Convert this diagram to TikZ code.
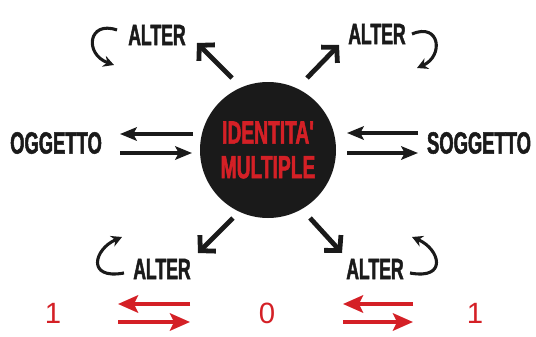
\documentclass[tikz,border=0pt]{standalone}
\usepackage{fontspec}
\setmainfont{Liberation Sans}
\newfontfamily\condfont{Liberation Sans}[FakeStretch=0.6,BoldFeatures={FakeBold=1.6}]
\usetikzlibrary{arrows.meta}
\definecolor{idred}{RGB}{212,32,38}
\definecolor{idblack}{RGB}{26,26,26}

\begin{document}
\begin{tikzpicture}[x=0.75pt,y=0.75pt,yscale=-1,xscale=1,
  lbl/.style={inner sep=0pt,font=\condfont\bfseries\fontsize{22}{24}\selectfont,text=idblack},
  big/.style={inner sep=0pt,font=\condfont\bfseries\fontsize{23}{26}\selectfont,text=idblack},
  num/.style={inner sep=0pt,font=\fontsize{22}{24}\selectfont,text=idred},
  dirarr/.style={line width=3.6pt,idblack,-{Straight Barb[length=8pt,width=17pt]}},
  pairarr/.style={line width=3pt,idblack,-{Stealth[length=12.5pt,width=10pt,inset=2.5pt]}},
  redarr/.style={line width=2.8pt,idred,-{Stealth[length=15pt,width=13pt,inset=3pt]}},
  curl/.style={line width=2.3pt,idblack,-{Stealth[length=8pt,width=8.5pt]}}]
\useasboundingbox (0,0) rectangle (536,336);

% Centre
\node [circle,fill=idblack,minimum size=102pt,inner sep=0pt,align=center,
  font=\condfont\bfseries\fontsize{24}{26}\selectfont,text=idred] (id) at (268,150) {IDENTITA'\\MULTIPLE};

% Labels
\node [lbl] (altertl) at (157,35) {ALTER};
\node [lbl] (altertr) at (377,34) {ALTER};
\node [lbl] (alterbl) at (162,269) {ALTER};
\node [lbl] (alterbr) at (375,269) {ALTER};
\node [big] (ogg) at (56,143) {OGGETTO};
\node [big] (sogg) at (479,143) {SOGGETTO};
\node [num] (numl) at (53,313) {1};
\node [num] (numc) at (267,313) {0};
\node [num] (numr) at (475,313) {1};

% Arrow ends
\coordinate (tla) at (232,78);  \coordinate (tlb) at (197,43);
\coordinate (tra) at (307,78);  \coordinate (trb) at (339,45);
\coordinate (bla) at (233,218); \coordinate (blb) at (198,253);
\coordinate (bra) at (310,218); \coordinate (brb) at (342,253);
\coordinate (ola) at (193,134); \coordinate (olb) at (120,134);
\coordinate (orb) at (192,153);
\coordinate (sla) at (418,133); \coordinate (slb) at (347,133);
\coordinate (srb) at (418,153);
\coordinate (rla) at (190,304); \coordinate (rlb) at (118,304);
\coordinate (rlc) at (190,322);
\coordinate (rra) at (413,304); \coordinate (rrb) at (343,304);
\coordinate (rrc) at (413,322);

% Diagonal arrows
\draw [dirarr] (tla) -- (tlb);
\draw [dirarr] (tra) -- (trb);
\draw [dirarr] (bla) -- (blb);
\draw [dirarr] (bra) -- (brb);

% Pairs
\draw [pairarr] (ola) -- (olb);
\draw [pairarr] (olb |- orb) -- (orb);
\draw [pairarr] (sla) -- (slb);
\draw [pairarr] (slb |- srb) -- (srb);
\draw [redarr] (rla) -- (rlb);
\draw [redarr] (rlb |- rlc) -- (rlc);
\draw [redarr] (rra) -- (rrb);
\draw [redarr] (rrb |- rrc) -- (rrc);

% Curls
\draw [curl] (117,30) .. controls (88,20) and (84,54) .. (114,65);
\draw [curl] (412,34) .. controls (440,22) and (444,56) .. (417,68);
\draw [curl] (124,273) .. controls (86,280) and (94,249) .. (122,237);
\draw [curl] (410,273) .. controls (448,280) and (440,249) .. (412,237);

\end{tikzpicture}
\end{document}
